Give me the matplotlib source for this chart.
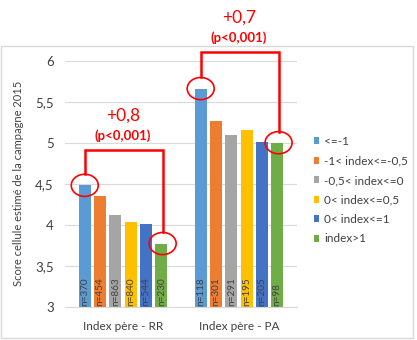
import matplotlib.pyplot as plt
from matplotlib.patches import Ellipse, Rectangle
import numpy as np

plt.rcParams['font.family'] = ['Lato', 'DejaVu Sans']

# données
groupes = ['Index père - RR', 'Index père - PA']
classes = ['<=-1', '-1< index<=-0,5', '-0,5< index<=0',
           '0< index<=0,5', '0< index<=1', 'index>1']
score_rr = [4.48, 4.35, 4.12, 4.03, 4.01, 3.77]
score_pa = [5.66, 5.26, 5.09, 5.15, 5.01, 5.00]
n_rr = [370, 454, 863, 840, 544, 230]
n_pa = [118, 301, 291, 195, 205, 98]
ecarts = ['+0,8', '+0,7']
pvals = ['(p<0,001)', '(p<0,001)']

couleurs = ['#5B9BD5', '#ED7D31', '#A5A5A5', '#FFC000', '#4472C4', '#70AD47']
gris = '#404040'
rouge = '#FF0000'

fig = plt.figure(figsize=(4.17, 3.4), dpi=100)
ax = fig.add_axes([0.156, 0.098, 0.556, 0.7235])
ax.set_axisbelow(True)

x = np.arange(len(groupes))
pas = 0.132
larg = 0.103
scores = np.array([score_rr, score_pa])
effectifs = np.array([n_rr, n_pa])

for i, (cls, c) in enumerate(zip(classes, couleurs)):
    xi = x + (i - 2.5) * pas
    ax.bar(xi, scores[:, i], larg, color=c, label=cls, zorder=2)
    for xx, n in zip(xi, effectifs[:, i]):
        ax.text(xx, 3.01, f'n={n}', rotation=90, ha='center', va='bottom',
                fontsize=7.2, color=gris, zorder=3)

ax.set_xlim(-0.5, 1.5)
ax.set_ylim(3, 6)
ax.set_yticks([3, 3.5, 4, 4.5, 5, 5.5, 6])
ax.set_yticklabels(['3', '3,5', '4', '4,5', '5', '5,5', '6'])
ax.set_xticks(x)
ax.set_xticklabels(groupes)
ax.tick_params(axis='y', length=0, pad=8, labelsize=9.5, labelcolor=gris)
ax.tick_params(axis='x', length=0, pad=10, labelsize=8.5, labelcolor=gris)
ax.grid(axis='y', color='#D9D9D9', lw=0.8)
for s in ['left', 'right', 'top']:
    ax.spines[s].set_visible(False)
ax.spines['bottom'].set_color('#D9D9D9')
ax.set_ylabel('Score cellule estimé de la campagne 2015', fontsize=8,
              color=gris, labelpad=8)

# crochets rouges entre la première et la dernière classe
hauts = [4.91, 6.10]
ew, eh = 0.233, 0.27
for g in range(len(groupes)):
    x1 = x[g] - 2.5 * pas
    x2 = x[g] + 2.5 * pas + 0.012
    y1 = scores[g, 0]
    y2 = scores[g, -1]
    for xx, yy in [(x1, y1), (x2, y2)]:
        ax.add_patch(Ellipse((xx, yy), ew, eh, fill=False, ec=rouge,
                             lw=1.2, zorder=4, clip_on=False))
    ax.plot([x1, x1, x2, x2],
            [y1 + eh / 2, hauts[g], hauts[g], y2 + eh / 2],
            color=rouge, lw=1.8, zorder=4, clip_on=False,
            solid_joinstyle='miter')
    ax.text(x[g], hauts[g] + 0.42, ecarts[g], ha='center', va='center',
            fontsize=12.5, color=rouge)
    ax.text(x[g], hauts[g] + 0.18, pvals[g], ha='center', va='center',
            fontsize=9.5, color=rouge, fontweight='bold')

ax.legend(loc='upper left', bbox_to_anchor=(0.752, 0.6),
          bbox_transform=fig.transFigure, frameon=False, fontsize=8.5,
          handlelength=0.5, handleheight=0.5, handletextpad=0.4,
          labelspacing=0.72, borderpad=0, borderaxespad=0,
          labelcolor=gris)

# cadre du graphique
fig.add_artist(Rectangle((0.002, 0.006), 0.988, 0.859, transform=fig.transFigure,
                         fill=False, ec='#D9D9D9', lw=1))

fig.savefig('out.png', dpi=100)
